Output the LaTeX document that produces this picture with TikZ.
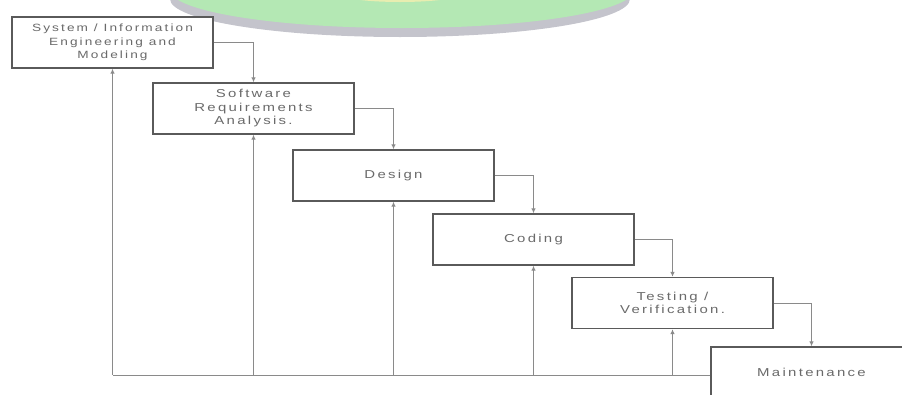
\documentclass[tikz,border=0pt]{standalone}
\usepackage{fontspec}
\setmainfont{Liberation Sans}[FakeStretch=1.3,LetterSpace=20]
\usetikzlibrary{arrows.meta}
\definecolor{linegray}{HTML}{8A8A8A}
\definecolor{boxgray}{HTML}{5A5A5A}
\definecolor{txtgray}{HTML}{6A6A6A}
\definecolor{swgreen}{HTML}{B4E8B4}
\definecolor{swgray}{HTML}{C4C4CC}
\definecolor{swyellow}{HTML}{E8EDB0}
\begin{document}
\begin{tikzpicture}[x=1pt,y=-1pt,
  stagebox/.style={draw=boxgray,line width=1.3pt,fill=white,minimum width=201pt,minimum height=51pt,
    align=center,text=txtgray,font=\fontsize{11.5}{13.5}\selectfont,inner sep=2pt},
  smalltext/.style={font=\fontsize{10.5}{13.5}\selectfont},
  arr/.style={draw=linegray,line width=1pt,-{Latex[length=5pt,width=4.5pt]}},
  ln/.style={draw=linegray,line width=1pt}]
\useasboundingbox (0,0) rectangle (902,394);
\clip (0,0) rectangle (902,394);
% banner swoosh
\fill[swgray] (400,-1) ellipse [x radius=230, y radius=38];
\fill[swgreen] (402,-10) ellipse [x radius=232, y radius=38];
\fill[swyellow] (400,-6) ellipse [x radius=60, y radius=8];
% boxes
\node[stagebox,smalltext] (b1) at (112.5,42.5) {System / Information\\Engineering and\\Modeling};
\node[stagebox] (b2) at (253.5,108.5) {Software\\Requirements\\Analysis.};
\node[stagebox] (b3) at (393.5,175.5) {Design};
\node[stagebox] (b4) at (533.5,239.5) {Coding};
\node[stagebox] (b5) at (672.5,303) {Testing /\\Verification.};
\node[stagebox] (b6) at (811.5,372.5) {Maintenance};
% forward connectors
\draw[arr] (b1.east) -| (b2.north);
\draw[arr] (b2.east) -| (b3.north);
\draw[arr] (b3.east) -| (b4.north);
\draw[arr] (b4.east) -| (b5.north);
\draw[arr] (b5.east) -| (b6.north);
% return path
\coordinate (r) at (0,375);
\draw[ln] (b6.west |- r) -- (b1.south |- r);
\foreach \b in {b1,b2,b3,b4,b5}{
  \draw[arr] (\b.south |- r) -- (\b.south);
}
\end{tikzpicture}
\end{document}
